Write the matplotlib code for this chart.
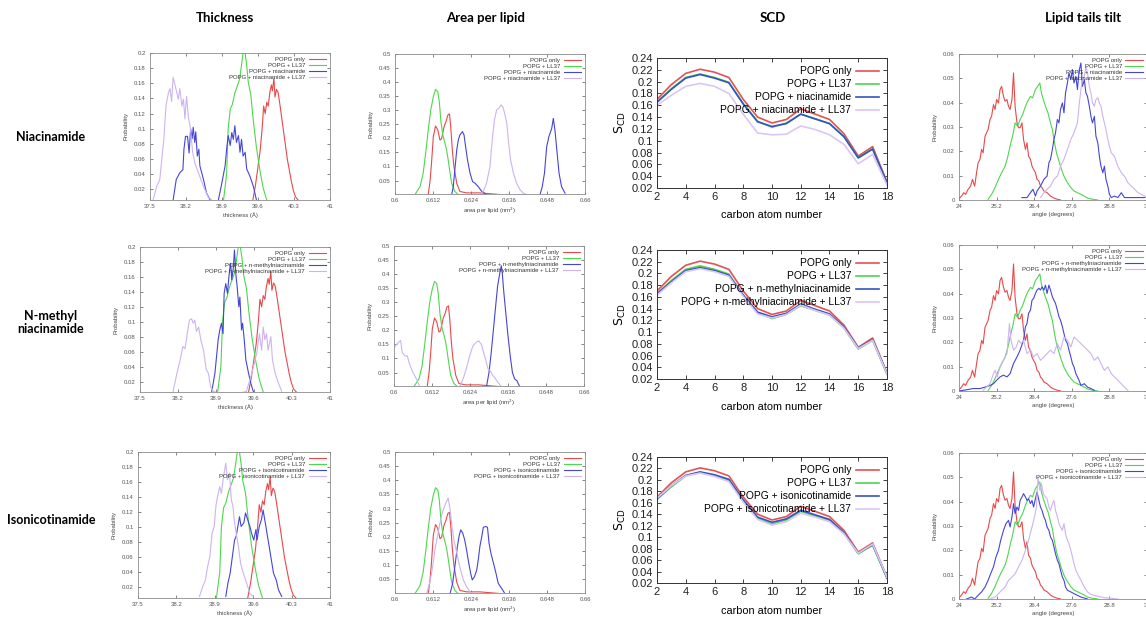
import matplotlib
matplotlib.use("Agg")
import matplotlib.pyplot as plt

# ---------------- data ----------------
row_names = ["Niacinamide", "N-methyl\nniacinamide", "Isonicotinamide"]
col_titles = ["Thickness", "Area per lipid", "SCD", "Lipid tails tilt"]
additives = ["niacinamide", "n-methylniacinamide", "isonicotinamide"]

# thickness (A) histograms
thk_red_x = [39.50, 39.55, 39.60, 39.64, 39.68, 39.71, 39.74, 39.77, 39.80, 39.83, 39.86, 39.88, 39.91,
             39.93, 39.96, 39.99, 40.02, 40.05, 40.09, 40.13, 40.17, 40.21, 40.25, 40.29, 40.33, 40.38]
thk_red_y = [0.006, 0.025, 0.05, 0.07, 0.10, 0.13, 0.12, 0.135, 0.13, 0.148, 0.158, 0.15, 0.167,
             0.142, 0.152, 0.148, 0.135, 0.12, 0.10, 0.08, 0.06, 0.045, 0.03, 0.018, 0.01, 0.006]
thk_green_x = [38.93, 38.99, 39.02, 39.06, 39.10, 39.15, 39.20, 39.24, 39.28, 39.31, 39.34, 39.38,
               39.41, 39.46, 39.51, 39.57, 39.64, 39.70, 39.77]
thk_green_y = [0.006, 0.04, 0.10, 0.126, 0.132, 0.147, 0.157, 0.165, 0.184, 0.2, 0.205, 0.184,
               0.162, 0.145, 0.11, 0.075, 0.044, 0.022, 0.006]
thk_blue_x = [[37.95, 38.01, 38.08, 38.14, 38.16, 38.19, 38.23, 38.26, 38.29, 38.32, 38.34, 38.37, 38.39,
               38.42, 38.45, 38.47, 38.54, 38.60, 38.67, 38.75, 38.83, 38.89, 38.96, 38.99, 39.02, 39.06,
               39.09, 39.12, 39.15, 39.18, 39.22, 39.25, 39.28, 39.31, 39.35, 39.38, 39.44, 39.51, 39.57],
              [38.82, 38.88, 38.94, 38.97, 39.00, 39.03, 39.05, 39.08, 39.11, 39.15, 39.17, 39.19, 39.22,
               39.24, 39.27, 39.29, 39.32, 39.34, 39.37, 39.39, 39.42, 39.45, 39.50, 39.54, 39.59],
              [39.10, 39.14, 39.18, 39.22, 39.26, 39.29, 39.32, 39.35, 39.38, 39.43, 39.46, 39.50, 39.54,
               39.57, 39.61, 39.65, 39.67, 39.71, 39.75, 39.78, 39.82, 39.86, 39.89, 39.93, 39.97, 40.02,
               40.06, 40.12]]
thk_blue_y = [[0.006, 0.033, 0.042, 0.046, 0.073, 0.09, 0.09, 0.068, 0.10, 0.087, 0.102, 0.082, 0.096,
               0.064, 0.073, 0.051, 0.033, 0.015, 0.006, 0.0, 0.006, 0.026, 0.051, 0.073, 0.091, 0.078,
               0.095, 0.086, 0.104, 0.082, 0.091, 0.069, 0.086, 0.064, 0.069, 0.047, 0.038, 0.024, 0.006],
              [0.006, 0.031, 0.076, 0.089, 0.098, 0.084, 0.138, 0.151, 0.138, 0.169, 0.178, 0.156, 0.173,
               0.196, 0.16, 0.147, 0.12, 0.133, 0.089, 0.098, 0.076, 0.049, 0.031, 0.018, 0.006],
              [0.008, 0.026, 0.039, 0.061, 0.083, 0.088, 0.101, 0.114, 0.101, 0.106, 0.119, 0.110, 0.101,
               0.092, 0.083, 0.097, 0.083, 0.101, 0.110, 0.123, 0.106, 0.088, 0.075, 0.057, 0.039, 0.030,
               0.017, 0.008]]
thk_purple_x = [[37.56, 37.63, 37.69, 37.73, 37.77, 37.81, 37.86, 37.89, 37.92, 37.95, 37.99, 38.02, 38.05,
                 38.08, 38.12, 38.15, 38.18, 38.21, 38.25, 38.28, 38.33, 38.37, 38.44, 38.54, 38.63, 38.70],
                [38.11, 38.18, 38.24, 38.29, 38.33, 38.37, 38.41, 38.45, 38.48, 38.51, 38.54, 38.58, 38.62,
                 38.67, 38.72, 38.76, 38.80, 38.85, 39.15, 39.46, 39.56, 39.65, 39.70, 39.74, 39.77, 39.80,
                 39.83, 39.86, 39.91, 39.94, 39.99, 40.05, 40.11],
                [38.62, 38.68, 38.73, 38.77, 38.81, 38.85, 38.89, 38.92, 38.95, 38.99, 39.02, 39.06, 39.10,
                 39.13, 39.17, 39.20, 39.23, 39.26, 39.29, 39.33, 39.37, 39.42, 39.48, 39.54, 39.60]]
thk_purple_y = [[0.006, 0.024, 0.033, 0.06, 0.087, 0.13, 0.148, 0.153, 0.136, 0.168, 0.157, 0.148, 0.139,
                 0.153, 0.13, 0.139, 0.113, 0.143, 0.113, 0.104, 0.069, 0.055, 0.042, 0.024, 0.01, 0.006],
                [0.007, 0.031, 0.049, 0.067, 0.064, 0.084, 0.102, 0.104, 0.098, 0.102, 0.087, 0.093, 0.076,
                 0.062, 0.036, 0.031, 0.013, 0.007, 0.0, 0.007, 0.031, 0.058, 0.084, 0.062, 0.093, 0.076,
                 0.084, 0.062, 0.08, 0.049, 0.031, 0.018, 0.007],
                [0.008, 0.021, 0.030, 0.048, 0.061, 0.092, 0.101, 0.128, 0.141, 0.154, 0.145, 0.168, 0.185,
                 0.163, 0.172, 0.137, 0.128, 0.106, 0.092, 0.075, 0.052, 0.039, 0.026, 0.012, 0.008]]

# area per lipid (nm^2) histograms
apl_red_x = [0.6105, 0.6111, 0.6116, 0.6121, 0.6128, 0.6135, 0.6142, 0.6147, 0.6155, 0.6161, 0.6167,
             0.6172, 0.6176, 0.6181, 0.6186, 0.6195, 0.6205, 0.6226, 0.6268, 0.6332]
apl_red_y = [0.0, 0.052, 0.123, 0.206, 0.244, 0.23, 0.194, 0.198, 0.242, 0.259, 0.283,
             0.287, 0.242, 0.159, 0.10, 0.04, 0.011, 0.006, 0.006, 0.0]
apl_green_x = [0.6063, 0.6079, 0.6089, 0.6098, 0.6105, 0.6113, 0.6121, 0.6128, 0.6135, 0.6140, 0.6145,
               0.6151, 0.6158, 0.6163, 0.6168, 0.6174, 0.6179, 0.6189, 0.6200]
apl_green_y = [0.0, 0.028, 0.076, 0.159, 0.23, 0.301, 0.348, 0.374, 0.366, 0.33, 0.26,
               0.212, 0.182, 0.159, 0.123, 0.076, 0.04, 0.011, 0.0]
apl_blue_x = [[0.6179, 0.6184, 0.6189, 0.6195, 0.6200, 0.6205, 0.6213, 0.6218, 0.6223, 0.6229, 0.6237,
               0.6245, 0.6253, 0.6263, 0.6274, 0.6289, 0.6458, 0.6465, 0.6472, 0.6479, 0.6486, 0.6495,
               0.6500, 0.6505, 0.6511, 0.6518, 0.6526, 0.6537],
              [0.6292, 0.6300, 0.6307, 0.6315, 0.6321, 0.6327, 0.6334, 0.6339, 0.6342, 0.6346, 0.6353,
               0.6360, 0.6367, 0.6374, 0.6381, 0.6388, 0.6397],
              [0.6174, 0.6182, 0.6189, 0.6197, 0.6203, 0.6208, 0.6214, 0.6220, 0.6226, 0.6233, 0.6239,
               0.6244, 0.6251, 0.6258, 0.6263, 0.6268, 0.6274, 0.6279, 0.6286, 0.6292, 0.6297, 0.6303,
               0.6311, 0.6319, 0.6326, 0.6337, 0.6347]]
apl_blue_y = [[0.0, 0.028, 0.088, 0.159, 0.194, 0.212, 0.224, 0.212, 0.17, 0.123, 0.076,
               0.046, 0.04, 0.028, 0.011, 0.0, 0.0, 0.028, 0.076, 0.17, 0.206, 0.236,
               0.271, 0.23, 0.159, 0.076, 0.028, 0.005],
              [0.0, 0.05, 0.121, 0.215, 0.286, 0.356, 0.403, 0.43, 0.403, 0.345, 0.262,
               0.18, 0.109, 0.05, 0.027, 0.021, 0.0],
              [0.0, 0.036, 0.095, 0.166, 0.207, 0.225, 0.213, 0.19, 0.154, 0.107, 0.071,
               0.048, 0.06, 0.083, 0.119, 0.166, 0.201, 0.234, 0.237, 0.234, 0.178, 0.142,
               0.107, 0.071, 0.036, 0.018, 0.0]]
apl_purple_x = [[0.6268, 0.6279, 0.6289, 0.6300, 0.6307, 0.6314, 0.6321, 0.6328, 0.6335, 0.6340, 0.6345,
                 0.6353, 0.6359, 0.6365, 0.6374, 0.6384, 0.6395, 0.6405, 0.6416],
                [0.6000, 0.6013, 0.6021, 0.6026, 0.6034, 0.6042, 0.6049, 0.6060, 0.6071, 0.6081, 0.6207,
                 0.6218, 0.6228, 0.6239, 0.6249, 0.6260, 0.6268, 0.6276, 0.6283, 0.6292, 0.6297, 0.6304,
                 0.6313, 0.6321, 0.6328, 0.6339],
                [0.6100, 0.6111, 0.6119, 0.6126, 0.6134, 0.6142, 0.6149, 0.6156, 0.6163, 0.6168, 0.6174,
                 0.6180, 0.6186, 0.6193, 0.6200, 0.6207, 0.6216, 0.6226, 0.6237, 0.6247]]
apl_purple_y = [[0.0, 0.011, 0.04, 0.10, 0.194, 0.265, 0.301, 0.307, 0.319, 0.313, 0.295,
                 0.254, 0.182, 0.123, 0.076, 0.04, 0.017, 0.005, 0.0],
                [0.138, 0.156, 0.164, 0.121, 0.109, 0.109, 0.08, 0.05, 0.027, 0.0, 0.0,
                 0.027, 0.062, 0.109, 0.144, 0.158, 0.162, 0.15, 0.121, 0.085, 0.062, 0.056,
                 0.038, 0.027, 0.015, 0.0],
                [0.0, 0.045, 0.095, 0.154, 0.201, 0.249, 0.284, 0.308, 0.325, 0.337, 0.296,
                 0.237, 0.19, 0.154, 0.119, 0.083, 0.048, 0.024, 0.006, 0.0]]

# SCD order parameters
carbon = list(range(2, 19))
scd_red = [0.170, 0.195, 0.214, 0.221, 0.216, 0.207, 0.170, 0.140, 0.130, 0.136, 0.154, 0.145, 0.136,
           0.112, 0.074, 0.090, 0.030]
scd_green = [0.166, 0.188, 0.207, 0.213, 0.207, 0.199, 0.163, 0.133, 0.123, 0.130, 0.145, 0.137, 0.129,
             0.107, 0.071, 0.086, 0.028]
scd_blue = [[0.165, 0.187, 0.206, 0.212, 0.206, 0.198, 0.162, 0.132, 0.124, 0.129, 0.145, 0.137, 0.129,
             0.107, 0.071, 0.086, 0.029],
            [0.165, 0.186, 0.205, 0.210, 0.205, 0.197, 0.163, 0.134, 0.126, 0.132, 0.148, 0.139, 0.131,
             0.109, 0.073, 0.087, 0.030],
            [0.167, 0.190, 0.208, 0.214, 0.209, 0.201, 0.165, 0.135, 0.126, 0.132, 0.147, 0.139, 0.131,
             0.108, 0.072, 0.087, 0.029]]
scd_purple = [[0.160, 0.177, 0.192, 0.197, 0.192, 0.180, 0.145, 0.113, 0.110, 0.111, 0.125, 0.119, 0.110,
               0.094, 0.061, 0.077, 0.025],
              [0.163, 0.184, 0.203, 0.208, 0.203, 0.195, 0.161, 0.131, 0.124, 0.130, 0.146, 0.137, 0.129,
               0.107, 0.072, 0.086, 0.029],
              [0.168, 0.190, 0.207, 0.212, 0.206, 0.197, 0.161, 0.131, 0.121, 0.127, 0.142, 0.135, 0.127,
               0.106, 0.072, 0.088, 0.030]]

# lipid tail tilt (degrees) histograms
tilt_red_x = [24.0, 24.08, 24.15, 24.21, 24.29, 24.37, 24.43, 24.50, 24.56, 24.61, 24.67, 24.72, 24.77,
              24.83, 24.88, 24.93, 24.99, 25.04, 25.10, 25.15, 25.20, 25.26, 25.31, 25.36, 25.42, 25.47,
              25.53, 25.58, 25.63, 25.69, 25.74, 25.79, 25.85, 25.90, 25.95, 26.01, 26.06, 26.12, 26.17,
              26.22, 26.28, 26.33, 26.38, 26.44, 26.49, 26.55, 26.60, 26.65, 26.71, 26.81, 26.92, 27.03,
              27.14, 27.24]
tilt_red_y = [0.0005, 0.0016, 0.003, 0.0023, 0.0044, 0.0057, 0.0085, 0.0057, 0.0112, 0.0153, 0.0167,
              0.0208, 0.0194, 0.0262, 0.0276, 0.029, 0.0331, 0.0344, 0.0392, 0.0372, 0.0413, 0.0399,
              0.0454, 0.0467, 0.0426, 0.0406, 0.0413, 0.0385, 0.0372, 0.0413, 0.0522, 0.0385, 0.0317,
              0.0297, 0.0297, 0.0317, 0.0249, 0.0208, 0.0235, 0.018, 0.0167, 0.0139, 0.0126, 0.0112,
              0.0085, 0.0078, 0.0057, 0.0051, 0.0037, 0.003, 0.0016, 0.0008, 0.0003, 0.0]
tilt_green_x = [24.93, 25.04, 25.15, 25.26, 25.36, 25.47, 25.55, 25.63, 25.72, 25.79, 25.87, 25.95, 26.03,
                26.12, 26.19, 26.28, 26.35, 26.44, 26.51, 26.58, 26.63, 26.69, 26.76, 26.84, 26.92, 26.98,
                27.03, 27.11, 27.19, 27.27, 27.35, 27.46, 27.57, 27.67, 27.78, 27.89, 28.0, 28.1, 28.26,
                28.43]
tilt_green_y = [0.0003, 0.0023, 0.0051, 0.0085, 0.0112, 0.0139, 0.0174, 0.0221, 0.0269, 0.0317, 0.0303,
                0.0331, 0.0351, 0.0385, 0.0406, 0.0426, 0.042, 0.0454, 0.0467, 0.0481, 0.044, 0.0413,
                0.0385, 0.0358, 0.0317, 0.029, 0.0249, 0.0194, 0.016, 0.0126, 0.0098, 0.0071, 0.0051,
                0.0037, 0.003, 0.0023, 0.0016, 0.0008, 0.0003, 0.0]
tilt_blue_x = [[26.01, 26.17, 26.28, 26.36, 26.44, 26.49, 26.60, 26.71, 26.81, 26.87, 26.92, 26.98, 27.03,
                27.08, 27.14, 27.19, 27.24, 27.30, 27.35, 27.40, 27.46, 27.51, 27.57, 27.62, 27.67, 27.73,
                27.78, 27.83, 27.89, 27.94, 28.00, 28.05, 28.10, 28.16, 28.21, 28.26, 28.32, 28.37, 28.43,
                28.48, 28.53, 28.59, 28.64, 28.69, 28.75, 28.80, 28.86, 28.96, 29.07, 29.18, 29.28, 29.5,
                29.93],
               [24.0, 24.24, 24.45, 24.67, 24.83, 24.99, 25.10, 25.20, 25.31, 25.42, 25.53, 25.63, 25.74,
                25.85, 25.95, 26.06, 26.12, 26.17, 26.22, 26.28, 26.33, 26.38, 26.44, 26.49, 26.55, 26.60,
                26.65, 26.71, 26.76, 26.81, 26.87, 26.92, 26.98, 27.03, 27.08, 27.14, 27.19, 27.24, 27.30,
                27.35, 27.40, 27.46, 27.51, 27.57, 27.62, 27.67, 27.73, 27.78, 27.83, 27.89, 28.0, 28.10,
                28.21, 28.32],
               [24.24, 24.40, 24.50, 24.61, 24.72, 24.83, 24.93, 25.01, 25.10, 25.18, 25.26, 25.33, 25.42,
                25.50, 25.58, 25.63, 25.69, 25.74, 25.79, 25.85, 25.90, 25.95, 26.01, 26.06, 26.12, 26.17,
                26.22, 26.28, 26.33, 26.38, 26.44, 26.49, 26.55, 26.60, 26.65, 26.71, 26.76, 26.81, 26.87,
                26.92, 26.98, 27.03, 27.08, 27.14, 27.19, 27.24, 27.30, 27.35, 27.40, 27.46, 27.57, 27.67,
                27.78, 27.89, 28.0, 28.10]]
tilt_blue_y = [[0.001, 0.001, 0.003, 0.0044, 0.0016, 0.0037, 0.0057, 0.0085, 0.0098, 0.0153, 0.0167, 0.0208,
                0.0249, 0.0276, 0.0331, 0.0317, 0.0372, 0.0399, 0.0358, 0.044, 0.0481, 0.0522, 0.0495,
                0.0536, 0.0481, 0.0508, 0.0454, 0.0529, 0.0563, 0.0467, 0.0495, 0.044, 0.0426, 0.0385,
                0.0344, 0.0317, 0.0344, 0.0262, 0.0235, 0.018, 0.0139, 0.0112, 0.0139, 0.0085, 0.0057,
                0.0023, 0.001, 0.0016, 0.001, 0.003, 0.001, 0.001, 0.001],
               [0.0, 0.0005, 0.001, 0.001, 0.0016, 0.0023, 0.003, 0.0044, 0.0058, 0.0065, 0.0058, 0.0071,
                0.0113, 0.014, 0.0168, 0.0209, 0.0264, 0.0277, 0.0319, 0.0332, 0.0373, 0.038, 0.0401,
                0.0415, 0.0422, 0.0415, 0.0428, 0.0415, 0.0435, 0.0401, 0.0435, 0.0415, 0.0387, 0.0373,
                0.036, 0.0332, 0.0305, 0.0291, 0.0264, 0.0236, 0.0209, 0.0195, 0.0168, 0.014, 0.0113,
                0.0099, 0.0071, 0.0058, 0.0044, 0.0023, 0.003, 0.0016, 0.001, 0.0003],
               [0.0, 0.0008, 0.0, 0.0015, 0.0029, 0.0049, 0.0077, 0.0104, 0.0132, 0.0173, 0.02, 0.0241,
                0.0282, 0.031, 0.0323, 0.0296, 0.0337, 0.0392, 0.0351, 0.0378, 0.0364, 0.0405, 0.0419,
                0.0433, 0.0419, 0.0405, 0.0412, 0.0392, 0.0405, 0.0378, 0.0412, 0.044, 0.0405, 0.0378,
                0.0364, 0.0337, 0.0323, 0.0296, 0.0282, 0.0255, 0.0241, 0.0214, 0.0186, 0.0159, 0.0145,
                0.0118, 0.009, 0.0077, 0.0049, 0.0036, 0.0029, 0.0022, 0.0015, 0.0008, 0.0004, 0.0]]
tilt_purple_x = [[26.60, 26.71, 26.81, 26.92, 27.03, 27.14, 27.24, 27.35, 27.46, 27.57, 27.67, 27.78, 27.83,
                  27.89, 27.94, 28.0, 28.05, 28.10, 28.16, 28.21, 28.26, 28.32, 28.37, 28.43, 28.48, 28.53,
                  28.59, 28.64, 28.69, 28.75, 28.80, 28.86, 28.96, 29.07, 29.18, 29.28, 29.39, 29.5, 29.61,
                  29.71, 29.82, 29.93, 30.04],
                 [24.77, 24.88, 24.99, 25.10, 25.15, 25.22, 25.31, 25.42, 25.53, 25.61, 25.66, 25.74, 25.83,
                  25.90, 25.98, 26.06, 26.17, 26.28, 26.38, 26.49, 26.60, 26.71, 26.81, 26.92, 27.03, 27.14,
                  27.24, 27.35, 27.46, 27.57, 27.67, 27.78, 27.89, 28.0, 28.10, 28.21, 28.32, 28.43, 28.53,
                  28.64, 28.75, 28.86, 28.96, 29.07, 29.18, 29.28, 29.39],
                 [24.99, 25.15, 25.26, 25.36, 25.47, 25.58, 25.69, 25.79, 25.90, 26.01, 26.12, 26.22, 26.33,
                  26.41, 26.47, 26.52, 26.58, 26.63, 26.69, 26.76, 26.81, 26.87, 26.92, 26.98, 27.03, 27.08,
                  27.14, 27.19, 27.24, 27.30, 27.35, 27.40, 27.46, 27.51, 27.57, 27.62, 27.67, 27.73, 27.78,
                  27.89, 28.0, 28.10, 28.21, 28.32, 28.43, 28.53, 28.64, 28.86, 29.07]]
tilt_purple_y = [[0.001, 0.003, 0.0044, 0.0057, 0.0085, 0.0098, 0.0139, 0.0167, 0.0208, 0.0249, 0.0276,
                  0.0317, 0.0385, 0.0454, 0.0495, 0.0508, 0.055, 0.0522, 0.0467, 0.044, 0.0399, 0.0385,
                  0.0413, 0.042, 0.0399, 0.0385, 0.0344, 0.0317, 0.029, 0.0249, 0.0221, 0.0194, 0.018,
                  0.0139, 0.0112, 0.0098, 0.0071, 0.0057, 0.0044, 0.003, 0.0023, 0.0016, 0.001],
                 [0.0003, 0.0016, 0.003, 0.0071, 0.0085, 0.0058, 0.0099, 0.0126, 0.0154, 0.0277, 0.0209,
                  0.0168, 0.0181, 0.0209, 0.0195, 0.0209, 0.0154, 0.0168, 0.014, 0.0154, 0.0126, 0.014,
                  0.0154, 0.0168, 0.0154, 0.0195, 0.0168, 0.0222, 0.0209, 0.0181, 0.0222, 0.0209, 0.0195,
                  0.0181, 0.0168, 0.0154, 0.0126, 0.014, 0.0113, 0.0085, 0.0099, 0.0071, 0.0058, 0.0044,
                  0.003, 0.0016, 0.0003],
                 [0.0, 0.0008, 0.0022, 0.0036, 0.0049, 0.0077, 0.009, 0.0104, 0.0132, 0.0159, 0.02, 0.0241,
                  0.0296, 0.0337, 0.0378, 0.0501, 0.0447, 0.0474, 0.0433, 0.0419, 0.0412, 0.0378, 0.0364,
                  0.0392, 0.0405, 0.0364, 0.0337, 0.031, 0.0296, 0.0282, 0.031, 0.0268, 0.0241, 0.0227,
                  0.02, 0.0173, 0.0145, 0.0118, 0.0104, 0.0077, 0.0049, 0.0029, 0.0019, 0.0015, 0.0011,
                  0.0008, 0.0005, 0.0003, 0.0]]

thk_xticks = [37.5, 38.2, 38.9, 39.6, 40.3, 41]
thk_xlabels = ["37.5", "38.2", "38.9", "39.6", "40.3", "41"]
thk_yticks = [0.02, 0.04, 0.06, 0.08, 0.1, 0.12, 0.14, 0.16, 0.18, 0.2]
thk_ylabels = ["0.02", "0.04", "0.06", "0.08", "0.1", "0.12", "0.14", "0.16", "0.18", "0.2"]
apl_xticks = [0.6, 0.612, 0.624, 0.636, 0.648, 0.66]
apl_xlabels = ["0.6", "0.612", "0.624", "0.636", "0.648", "0.66"]
apl_yticks = [0.05, 0.1, 0.15, 0.2, 0.25, 0.3, 0.35, 0.4, 0.45, 0.5]
apl_ylabels = ["0.05", "0.1", "0.15", "0.2", "0.25", "0.3", "0.35", "0.4", "0.45", "0.5"]
tilt_xticks = [24, 25.2, 26.4, 27.6, 28.8, 30]
tilt_xlabels = ["24", "25.2", "26.4", "27.6", "28.8", "30"]
tilt_yticks = [0, 0.01, 0.02, 0.03, 0.04, 0.05, 0.06]
tilt_ylabels = ["0", "0.01", "0.02", "0.03", "0.04", "0.05", "0.06"]
scd_xticks = [2, 4, 6, 8, 10, 12, 14, 16, 18]
scd_yticks = [0.02, 0.04, 0.06, 0.08, 0.1, 0.12, 0.14, 0.16, 0.18, 0.2, 0.22, 0.24]
scd_ylabels = ["0.02", "0.04", "0.06", "0.08", "0.1", "0.12", "0.14", "0.16", "0.18", "0.2", "0.22", "0.24"]

# ---------------- styling ----------------
W, H = 1146, 624
hist_cols = ["#e8494b", "#4fd64f", "#4545d8", "#cdb4ef"]
scd_cols = ["#e25252", "#52d252", "#3552c4", "#dcc6f2"]

# panel boxes in pixels: left, top, right, bottom
thk_box = [(150, 53, 330, 200), (140, 247, 330, 392), (138, 452, 330, 598)]
apl_box = [(395, 54, 585, 194), (394, 246, 584, 386), (395, 452, 585, 593)]
scd_box = [(657, 58, 887, 188), (657, 250, 887, 379), (657, 457, 887, 583)]
tilt_box = [(959, 54, 1147, 200), (959, 245, 1147, 391), (959, 453, 1147, 599)]

fig = plt.figure(figsize=(W / 100, H / 100), dpi=100)


def add_ax(box):
    l, t, r, b = box
    return fig.add_axes([l / W, 1 - b / H, (r - l) / W, (b - t) / H])


def labels_for(i):
    return ["POPG only", "POPG + LL37", "POPG + " + additives[i], "POPG + " + additives[i] + " + LL37"]


def small_panel(ax, xs, ys, labs, xlim, ylim, xt, xl, yt, yl, xlabel):
    for x, y, c, lab in zip(xs, ys, hist_cols, labs):
        ax.plot(x, y, color=c, lw=0.8, label=lab)
    ax.set_xlim(xlim)
    ax.set_ylim(ylim)
    ax.set_xticks(xt)
    ax.set_xticklabels(xl)
    ax.set_yticks(yt)
    ax.set_yticklabels(yl)
    ax.tick_params(direction="in", length=2, width=0.5, labelsize=4.3, colors="#555555",
                   top=True, right=True, pad=3)
    for s in ax.spines.values():
        s.set_color("#8c8c8c")
        s.set_linewidth(0.6)
    ax.set_xlabel(xlabel, fontsize=4.3, color="#444444", labelpad=2, family="Liberation Sans")
    ax.set_ylabel("Probability", fontsize=4.3, color="#444444", labelpad=4, family="Liberation Sans")
    for t in ax.get_xticklabels() + ax.get_yticklabels():
        t.set_family("Liberation Sans")
    leg = ax.legend(loc="upper right", frameon=False, markerfirst=False,
                    handlelength=3.0, handletextpad=0.6, labelspacing=0.15,
                    borderaxespad=0.2, prop={"family": "Liberation Sans", "size": 4.3})
    for t in leg.get_texts():
        t.set_color("#333333")


for i in range(3):
    labs = labels_for(i)

    ax = add_ax(thk_box[i])
    small_panel(ax, [thk_red_x, thk_green_x, thk_blue_x[i], thk_purple_x[i]],
                [thk_red_y, thk_green_y, thk_blue_y[i], thk_purple_y[i]], labs,
                (37.5, 41), (0.006, 0.2), thk_xticks, thk_xlabels, thk_yticks, thk_ylabels,
                "thickness (Å)")

    ax = add_ax(apl_box[i])
    small_panel(ax, [apl_red_x, apl_green_x, apl_blue_x[i], apl_purple_x[i]],
                [apl_red_y, apl_green_y, apl_blue_y[i], apl_purple_y[i]], labs,
                (0.6, 0.66), (0.002, 0.5), apl_xticks, apl_xlabels, apl_yticks, apl_ylabels,
                "area per lipid (nm$^2$)")

    ax = add_ax(tilt_box[i])
    small_panel(ax, [tilt_red_x, tilt_green_x, tilt_blue_x[i], tilt_purple_x[i]],
                [tilt_red_y, tilt_green_y, tilt_blue_y[i], tilt_purple_y[i]], labs,
                (24, 30), (0, 0.06), tilt_xticks, tilt_xlabels, tilt_yticks, tilt_ylabels,
                "angle (degrees)")

    ax = add_ax(scd_box[i])
    for y, c, lab in zip([scd_red, scd_green, scd_blue[i], scd_purple[i]], scd_cols, labs):
        ax.plot(carbon, y, color=c, lw=1.2, label=lab)
    ax.set_xlim(2, 18)
    ax.set_ylim(0.02, 0.24)
    ax.set_xticks(scd_xticks)
    ax.set_yticks(scd_yticks)
    ax.set_yticklabels(scd_ylabels)
    ax.tick_params(direction="in", length=3, width=0.6, labelsize=8, colors="#222222",
                   top=True, right=True, pad=3)
    for t in ax.get_xticklabels() + ax.get_yticklabels():
        t.set_family("Liberation Sans")
    for s in ax.spines.values():
        s.set_color("#333333")
        s.set_linewidth(0.7)
    ax.set_xlabel("carbon atom number", fontsize=7.8, labelpad=6, family="Liberation Sans")
    ax.set_ylabel("S$_{\\mathrm{CD}}$", fontsize=9, labelpad=2)
    ax.legend(loc="upper right", frameon=False, markerfirst=False,
              handlelength=2.2, handletextpad=0.5, labelspacing=0.3, borderaxespad=0.4,
              prop={"family": "Liberation Sans", "size": 7.4})

# column titles and row names
col_x = [225, 486, 773, 1083]
for x, t in zip(col_x, col_titles):
    fig.text(x / W, 1 - 18 / H, t, ha="center", va="center", fontsize=9.5,
             fontweight="bold", family="Lato")
row_y = [137, 322, 520]
for y, t in zip(row_y, row_names):
    fig.text(51 / W, 1 - y / H, t, ha="center", va="center", fontsize=9,
             fontweight="bold", family="Lato", linespacing=1.1)

fig.savefig("out.png", dpi=100)
